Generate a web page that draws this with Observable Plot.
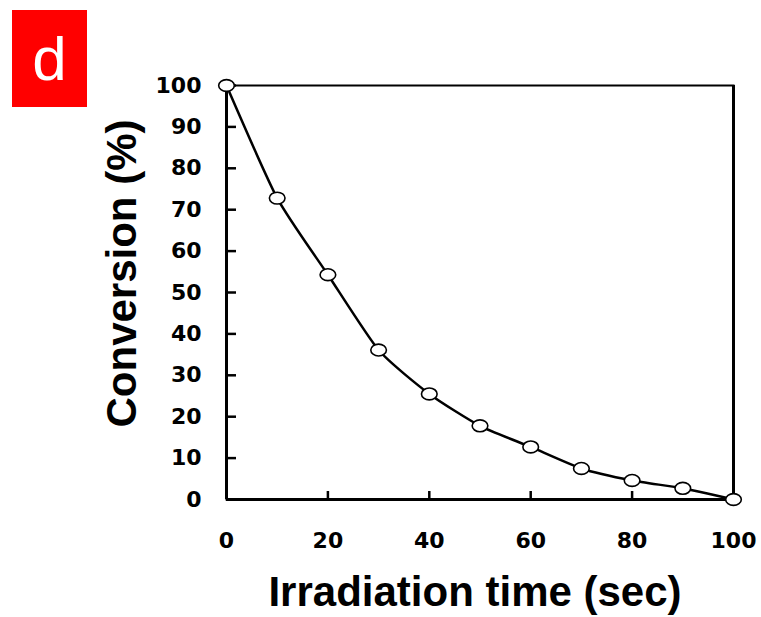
<!DOCTYPE html>
<html>
<head>
<meta charset="utf-8">
<script src="https://cdn.jsdelivr.net/npm/d3@7"></script>
<script src="https://cdn.jsdelivr.net/npm/@observablehq/plot@0.6"></script>
<style>
  html, body { margin: 0; padding: 0; background: #fff; }
  #wrap { position: relative; width: 761px; height: 617px; font-family: "Liberation Sans", Arial, sans-serif; }
  #panel { position: absolute; left: 12px; top: 10px; width: 75px; height: 97px; background: #ff0000; color: #fff;
           font-family: "Liberation Sans", Arial, sans-serif; font-size: 62px; line-height: 97px; text-align: center; }
  svg { display: block; }
</style>
</head>
<body>
<div id="wrap"><div id="panel">d</div></div>
<script>
const panelLabel = "d";
const xTitle = "Irradiation time (sec)";
const yTitle = "Conversion (%)";
const time = [0, 10, 20, 30, 40, 50, 60, 70, 80, 90, 100];
const conversion = [100, 72.8, 54.3, 36.1, 25.5, 17.8, 12.7, 7.5, 4.6, 2.7, 0];
const xTicks = [0, 20, 40, 60, 80, 100];
const yTicks = [0, 10, 20, 30, 40, 50, 60, 70, 80, 90, 100];

const data = time.map((t, i) => ({t, c: conversion[i]}));

// ellipse symbol (slightly wider than tall, like the reference markers)
const ellipse = {
  draw(ctx, size) {
    const r = Math.sqrt(size / Math.PI);
    const rx = r * 1.15, ry = r * 0.87, k = 0.5523;
    ctx.moveTo(rx, 0);
    ctx.bezierCurveTo(rx, ry * k, rx * k, ry, 0, ry);
    ctx.bezierCurveTo(-rx * k, ry, -rx, ry * k, -rx, 0);
    ctx.bezierCurveTo(-rx, -ry * k, -rx * k, -ry, 0, -ry);
    ctx.bezierCurveTo(rx * k, -ry, rx, -ry * k, rx, 0);
    ctx.closePath();
  }
};

const font = "'Liberation Sans', Arial, sans-serif";
const tickFont = "'DejaVu Sans', 'Liberation Sans', Arial, sans-serif";
document.getElementById("panel").textContent = panelLabel;

const chart = Plot.plot({
  width: 761,
  height: 617,
  marginLeft: 226,
  marginRight: 28,
  marginTop: 85,
  marginBottom: 118,
  style: {fontFamily: font, color: "#000", background: "transparent", overflow: "visible"},
  x: {domain: [0, 100], ticks: xTicks},
  y: {domain: [0, 100], ticks: yTicks},
  marks: [
    Plot.frame({stroke: "#000", strokeWidth: 2}),
    Plot.ruleX([d3.min(time)], {stroke: "#000", strokeWidth: 3}),
    Plot.ruleX([d3.max(time)], {stroke: "#000", strokeWidth: 3}),
    Plot.ruleY([d3.min(yTicks)], {stroke: "#000", strokeWidth: 3}),
    Plot.axisX({ticks: xTicks, tickSize: -8, tickPadding: 41, tickFormat: d => String(d), fontSize: 22, fontWeight: "bold", fontFamily: tickFont, strokeWidth: 2.5, label: null}),
    Plot.axisY({ticks: yTicks, tickSize: -10, tickPadding: 35, tickFormat: d => String(d), fontSize: 22, fontWeight: "bold", fontFamily: tickFont, strokeWidth: 2.5, label: null}),
    Plot.line(data, {x: "t", y: "c", curve: "cardinal", tension: 0.4, stroke: "#000", strokeWidth: 2.5}),
    Plot.dot(data, {x: "t", y: "c", r: 6.8, symbol: ellipse, fill: "#fff", stroke: "#000", strokeWidth: 1.6}),
    Plot.text([xTitle], {frameAnchor: "bottom", textAnchor: "middle", lineAnchor: "bottom", dx: -5, dy: 106, fontSize: 42, fontWeight: "bold", fill: "#000"}),
    Plot.text([yTitle], {frameAnchor: "left", textAnchor: "middle", lineAnchor: "middle", dx: -104, dy: -19, rotate: -90, fontSize: 42, fontWeight: "bold", fill: "#000"})
  ]
});
document.getElementById("wrap").prepend(chart);
</script>
</body>
</html>
